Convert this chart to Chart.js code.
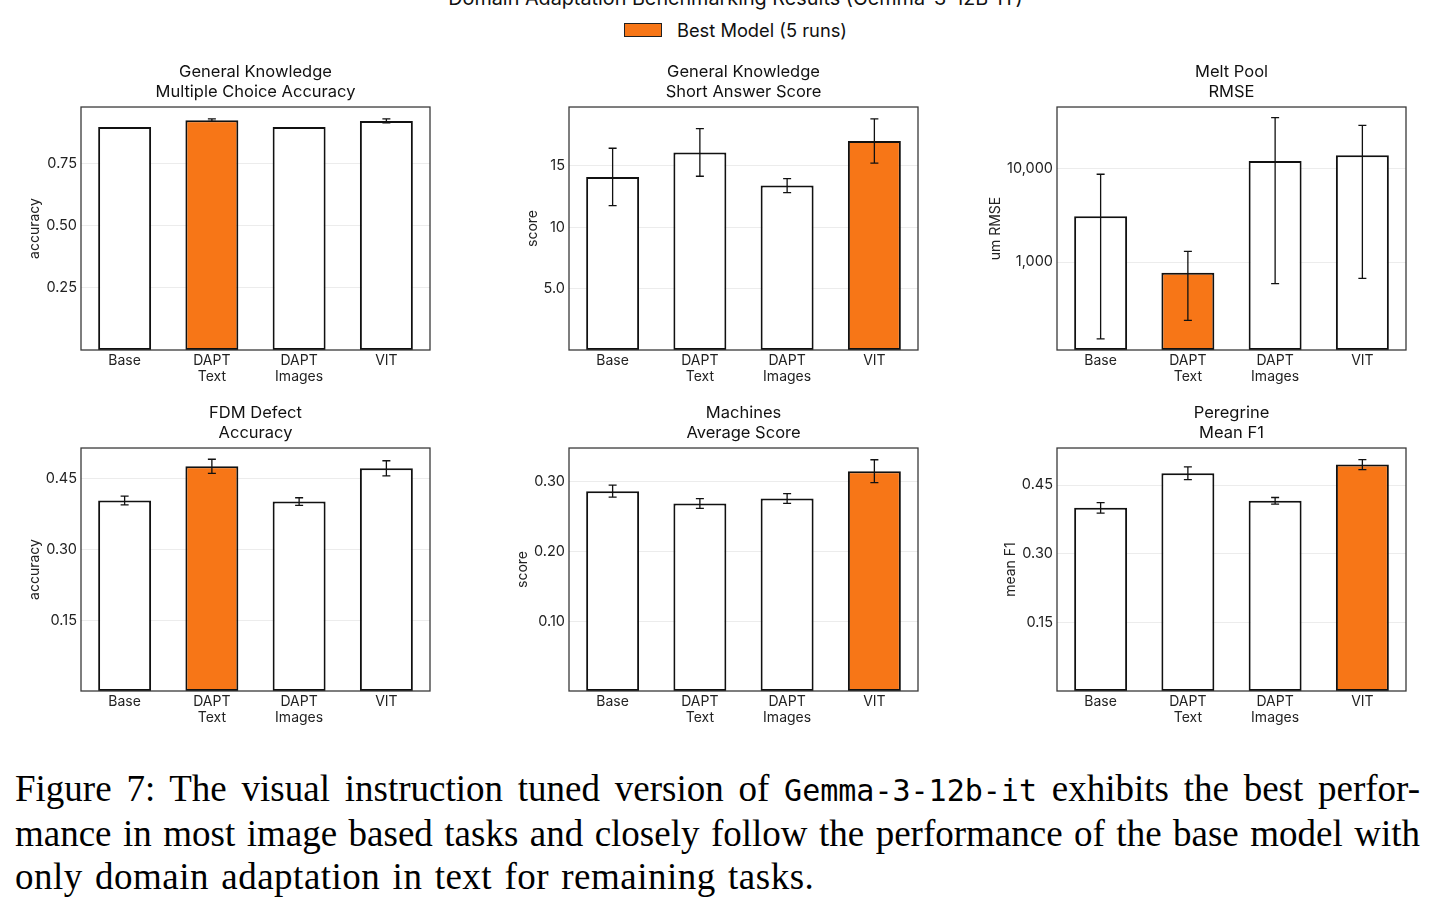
<!doctype html>
<html lang="en">
<head>
<meta charset="utf-8">
<title>Domain Adaptation Benchmarking Results</title>
<script src="https://cdn.jsdelivr.net/npm/chart.js@4.4.1/dist/chart.umd.min.js"></script>
<style>
    html, body { margin: 0; padding: 0; background: #fff; }
    #page { position: relative; width: 1435px; height: 910px; overflow: hidden; }
    #suptitle {
        position: absolute; left: 18px; top: -15px; width: 1435px;
        text-align: center; font: 19.8px Inter; line-height: 26px; color: #111;
    }
    #legend {
        position: absolute; left: 624px; top: 19px;
        display: flex; align-items: center; font: 18.3px Inter; color: #111;
    }
    #legend .swatch {
        width: 36px; height: 12px; background: #f77617;
        border: 1px solid #222; margin-right: 15px;
    }
    canvas { position: absolute; }
    #caption {
        position: absolute; left: 15px; top: 767px; width: 1405px;
        font-family: 'Liberation Serif', serif; font-size: 37px; line-height: 43px; color: #000;
    }
    #caption .just { text-align: justify; text-align-last: justify; }
    #caption .last { letter-spacing: 0.5px; word-spacing: 2.5px; }
    #caption .tt { font-family: 'DejaVu Sans Mono', monospace; font-size: 30px; }
</style>
</head>
<body>
<div id="page">
    <div id="suptitle">Domain Adaptation Benchmarking Results (Gemma-3-12B-IT)</div>
    <div id="legend"><span class="swatch"></span>Best Model (5 runs)</div>

    <canvas id="c1" width="434" height="338" style="left:6px; top:57px;"></canvas>
    <canvas id="c2" width="434" height="338" style="left:494px; top:57px;"></canvas>
    <canvas id="c3" width="434" height="338" style="left:982px; top:57px;"></canvas>
    <canvas id="c4" width="434" height="338" style="left:6px; top:398px;"></canvas>
    <canvas id="c5" width="434" height="338" style="left:494px; top:398px;"></canvas>
    <canvas id="c6" width="434" height="338" style="left:982px; top:398px;"></canvas>

    <div id="caption">
        <div class="just">Figure 7: The visual instruction tuned version of <span class="tt">Gemma-3-12b-it</span> exhibits the best perfor-</div>
        <div class="just">mance in most image based tasks and closely follow the performance of the base model with</div>
        <div class="last">only domain adaptation in text for remaining tasks.</div>
    </div>
</div>

<script>
// kategori model (sama untuk semua panel)
var categories = [['Base'], ['DAPT', 'Text'], ['DAPT', 'Images'], ['VIT']];

// General Knowledge - Multiple Choice Accuracy
var mcqAcc = [0.898, 0.926, 0.898, 0.923];
var mcqErr = [0, 0.005, 0, 0.008];
var mcqTicks = [0.25, 0.50, 0.75];
var mcqTickLabels = ['0.25', '0.50', '0.75'];

// General Knowledge - Short Answer Score
var saScore = [14.1, 16.1, 13.4, 17.03];
var saErr = [2.34, 1.94, 0.57, 1.8];
var saTicks = [5, 10, 15];
var saTickLabels = ['5.0', '10', '15'];

// Melt Pool RMSE (log scale, whiskers asymmetric)
var meltRmse = [3100, 770, 12080, 13880];
var meltLow = [151, 238, 588, 670];
var meltHigh = [8700, 1300, 35000, 29000];
var meltTicks = [1000, 10000];
var meltTickLabels = ['1,000', '10,000'];

// FDM Defect Accuracy
var fdmAcc = [0.4035, 0.476, 0.4014, 0.4718];
var fdmErr = [0.0093, 0.015, 0.008, 0.016];
var fdmTicks = [0.15, 0.30, 0.45];
var fdmTickLabels = ['0.15', '0.30', '0.45'];

// Machines Average Score
var machScore = [0.2862, 0.2686, 0.2757, 0.3148];
var machErr = [0.0086, 0.007, 0.0071, 0.0164];
var machTicks = [0.10, 0.20, 0.30];
var machTickLabels = ['0.10', '0.20', '0.30'];

// Peregrine Mean F1
var pereF1 = [0.4002, 0.4758, 0.4155, 0.4947];
var pereErr = [0.0113, 0.0138, 0.0073, 0.011];
var pereTicks = [0.15, 0.30, 0.45];
var pereTickLabels = ['0.15', '0.30', '0.45'];

var bestIndex = [1, 3, 1, 1, 3, 3];

var ORANGE = '#f77617';
var AXIS_W = 75;

function lowOf(v, e) { return v.map(function (x, i) { return x - e[i]; }); }
function highOf(v, e) { return v.map(function (x, i) { return x + e[i]; }); }

var panels = [
    { id: 'c1', title: ['General Knowledge', 'Multiple Choice Accuracy'], ylabel: 'accuracy', type: 'linear',
      min: 0, max: 0.979, values: mcqAcc, low: lowOf(mcqAcc, mcqErr), high: highOf(mcqAcc, mcqErr),
      ticks: mcqTicks, tickLabels: mcqTickLabels, best: bestIndex[0], ytPad: 20 },
    { id: 'c2', title: ['General Knowledge', 'Short Answer Score'], ylabel: 'score', type: 'linear',
      min: 0, max: 19.8, values: saScore, low: lowOf(saScore, saErr), high: highOf(saScore, saErr),
      ticks: saTicks, tickLabels: saTickLabels, best: bestIndex[1], ytPad: 30 },
    { id: 'c3', title: ['Melt Pool', 'RMSE'], ylabel: 'um RMSE', type: 'logarithmic',
      min: 115, max: 45500, values: meltRmse, low: meltLow, high: meltHigh,
      ticks: meltTicks, tickLabels: meltTickLabels, best: bestIndex[2], ytPad: 5 },
    { id: 'c4', title: ['FDM Defect', 'Accuracy'], ylabel: 'accuracy', type: 'linear',
      min: 0, max: 0.5148, values: fdmAcc, low: lowOf(fdmAcc, fdmErr), high: highOf(fdmAcc, fdmErr),
      ticks: fdmTicks, tickLabels: fdmTickLabels, best: bestIndex[3], ytPad: 20 },
    { id: 'c5', title: ['Machines', 'Average Score'], ylabel: 'score', type: 'linear',
      min: 0, max: 0.348, values: machScore, low: lowOf(machScore, machErr), high: highOf(machScore, machErr),
      ticks: machTicks, tickLabels: machTickLabels, best: bestIndex[4], ytPad: 20 },
    { id: 'c6', title: ['Peregrine', 'Mean F1'], ylabel: 'mean F1', type: 'linear',
      min: 0, max: 0.531, values: pereF1, low: lowOf(pereF1, pereErr), high: highOf(pereF1, pereErr),
      ticks: pereTicks, tickLabels: pereTickLabels, best: bestIndex[5], ytPad: 20 }
];

// garis error (whisker + cap)
var errorBarPlugin = {
    id: 'errorBars',
    afterDatasetsDraw: function (chart, args, opts) {
        var ctx = chart.ctx, xs = chart.scales.x, ys = chart.scales.y;
        ctx.save();
        ctx.strokeStyle = '#111';
        ctx.lineWidth = 1.3;
        opts.low.forEach(function (lo, i) {
            var hi = opts.high[i];
            if (hi - lo <= 0) return;
            var x = xs.getPixelForValue(i);
            var y1 = ys.getPixelForValue(lo), y2 = ys.getPixelForValue(hi);
            ctx.beginPath();
            ctx.moveTo(x, y1); ctx.lineTo(x, y2);
            ctx.moveTo(x - 4, y1); ctx.lineTo(x + 4, y1);
            ctx.moveTo(x - 4, y2); ctx.lineTo(x + 4, y2);
            ctx.stroke();
        });
        ctx.restore();
    }
};

// bingkai kotak di sekeliling area plot
var framePlugin = {
    id: 'frame',
    afterDraw: function (chart) {
        var a = chart.chartArea, ctx = chart.ctx;
        ctx.save();
        ctx.strokeStyle = '#3a3a3a';
        ctx.lineWidth = 1.3;
        ctx.strokeRect(a.left, a.top, a.right - a.left, a.bottom - a.top);
        ctx.restore();
    }
};

Chart.defaults.font.family = 'Inter';
Chart.defaults.color = '#222';

panels.forEach(function (p) {
    new Chart(document.getElementById(p.id), {
        type: 'bar',
        data: {
            labels: categories,
            datasets: [{
                data: p.values,
                backgroundColor: p.values.map(function (v, i) { return i === p.best ? ORANGE : '#ffffff'; }),
                borderColor: '#111',
                borderWidth: 2,
                borderSkipped: false,
                barPercentage: 0.607,
                categoryPercentage: 1
            }]
        },
        options: {
            responsive: false,
            animation: false,
            layout: { padding: { left: 0, right: 10, top: 0, bottom: 0 } },
            plugins: {
                legend: { display: false },
                tooltip: { enabled: false },
                title: {
                    display: true, fullSize: false, text: p.title, color: '#111',
                    font: { size: 16.5, weight: 'normal', lineHeight: 1.17 },
                    padding: { top: 5.8, bottom: 5.6 }
                },
                errorBars: { low: p.low, high: p.high }
            },
            scales: {
                x: {
                    grid: { display: false, drawTicks: false },
                    border: { display: false },
                    afterFit: function (s) { s.height = 45; },
                    ticks: { padding: 3, maxRotation: 0, autoSkip: false, font: { size: 14, lineHeight: 1.15 } }
                },
                y: {
                    type: p.type, min: p.min, max: p.max,
                    afterFit: function (s) { s.width = AXIS_W; },
                    afterBuildTicks: function (s) { s.ticks = p.ticks.map(function (v) { return { value: v }; }); },
                    grid: { color: '#ececec', lineWidth: 1, drawTicks: false },
                    border: { display: false },
                    ticks: {
                        padding: 4, font: { size: 14.5 },
                        callback: function (v) { var k = p.ticks.indexOf(v); return k >= 0 ? p.tickLabels[k] : ''; }
                    },
                    title: { display: true, text: p.ylabel, font: { size: 14 }, padding: { top: p.ytPad, bottom: 0 } }
                }
            }
        },
        plugins: [errorBarPlugin, framePlugin]
    });
});
</script>
</body>
</html>
